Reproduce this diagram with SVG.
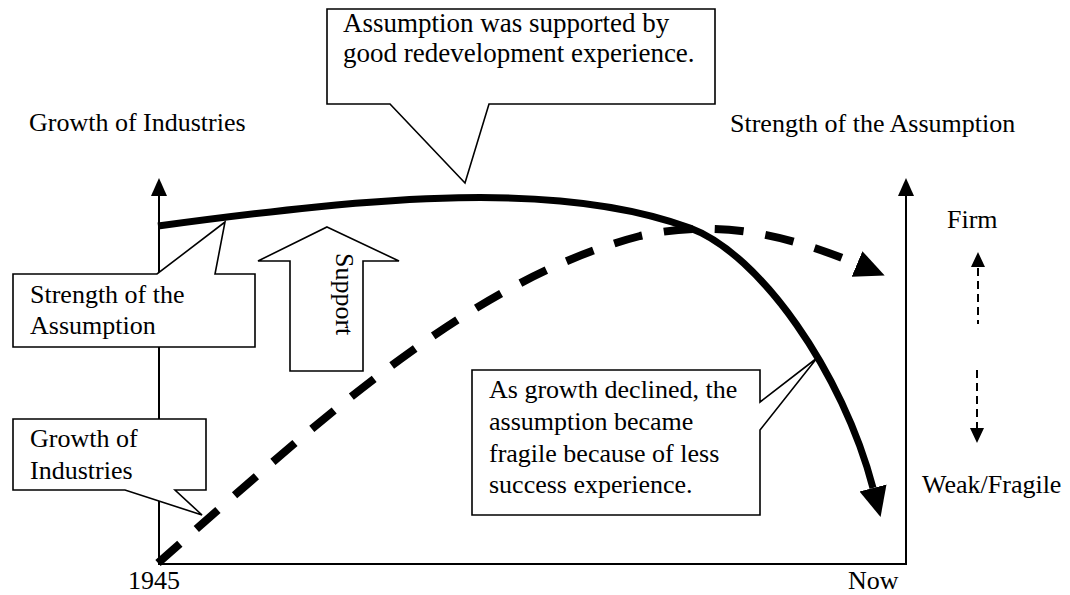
<svg xmlns="http://www.w3.org/2000/svg" width="1070" height="595" viewBox="0 0 1070 595">
  <style>
    text { font-family: "Liberation Serif", "Times New Roman", serif; font-size: 26px; fill: #000; }
    .callout { fill: #fff; stroke: #000; stroke-width: 1.6; stroke-linejoin: miter; }
    .axis { fill: none; stroke: #000; stroke-width: 2; }
    .head { fill: #000; stroke: none; }
    .hint { fill: none; stroke: #000; stroke-width: 2; stroke-dasharray: 8 5; }
  </style>
  <defs>
    <marker id="bigHead" markerUnits="userSpaceOnUse" markerWidth="30" markerHeight="30" refX="0" refY="13" orient="auto" viewBox="0 0 28 26">
      <path d="M0,0 L28,13 L0,26 Z" fill="#000"/>
    </marker>
  </defs>

  <rect width="1070" height="595" fill="#fff"/>

  <!-- axes -->
  <g id="axes">
    <path class="axis" d="M159,194 V564 H906 V194"/>
    <polygon class="head" points="159,178 151,196 167,196"/>
    <polygon class="head" points="906,178 898,196 914,196"/>
  </g>

  <!-- curves: strength of the assumption (solid) and growth of industries (dashed) -->
  <g id="connectors">
    <path d="M158,226 C380,196 560,180 690,228 C760,254 843,373 873,488" fill="none" stroke="#000" stroke-width="7" marker-end="url(#bigHead)"/>
    <path d="M158,563 C320,420 470,280 640,236 C720,218 790,236 857,264" fill="none" stroke="#000" stroke-width="8" stroke-dasharray="29 22" marker-end="url(#bigHead)"/>
  </g>

  <!-- axis labels -->
  <g id="label-left-axis"><text x="29" y="131">Growth of Industries</text></g>
  <g id="label-right-axis"><text x="730" y="132">Strength of the Assumption</text></g>
  <g id="label-1945"><text x="128" y="589">1945</text></g>
  <g id="label-now"><text x="848" y="589">Now</text></g>

  <!-- firm / fragile scale -->
  <g id="scale-firm">
    <text x="947" y="228">Firm</text>
    <polygon class="head" points="978,252 971,267 985,267"/>
    <line class="hint" x1="978" y1="268" x2="978" y2="324"/>
  </g>
  <g id="scale-weak">
    <line class="hint" x1="977" y1="370" x2="977" y2="428"/>
    <polygon class="head" points="977,443 970,428 984,428"/>
    <text x="922" y="493">Weak/Fragile</text>
  </g>

  <!-- support arrow -->
  <g id="support">
    <polygon class="callout" points="327,227 399,261 363,261 363,371 290,371 290,261 258,261"/>
    <text transform="translate(336,253) rotate(90)">Support</text>
  </g>

  <!-- callouts -->
  <g id="callout-supported">
    <polygon class="callout" points="327,9 715,9 715,104 489,104 465,183 390,104 327,104"/>
    <text x="343" y="32" style="font-size:27px">Assumption was supported by</text>
    <text x="343" y="62" style="font-size:27px">good redevelopment experience.</text>
  </g>

  <g id="callout-strength">
    <polygon class="callout" points="13,274 157,274 225,222 215,274 255,274 255,347 13,347"/>
    <text x="30" y="303">Strength of the</text>
    <text x="30" y="334">Assumption</text>
  </g>

  <g id="callout-growth">
    <polygon class="callout" points="13,419 206,419 206,490 175,490 202,515 125,490 13,490"/>
    <text x="30" y="447">Growth of</text>
    <text x="30" y="479">Industries</text>
  </g>

  <g id="callout-declined">
    <polygon class="callout" points="472,370 760,370 760,402 817,358 760,430 760,515 472,515"/>
    <text x="489" y="398">As growth declined, the</text>
    <text x="489" y="430">assumption became</text>
    <text x="489" y="462">fragile because of less</text>
    <text x="489" y="493">success experience.</text>
  </g>
</svg>
